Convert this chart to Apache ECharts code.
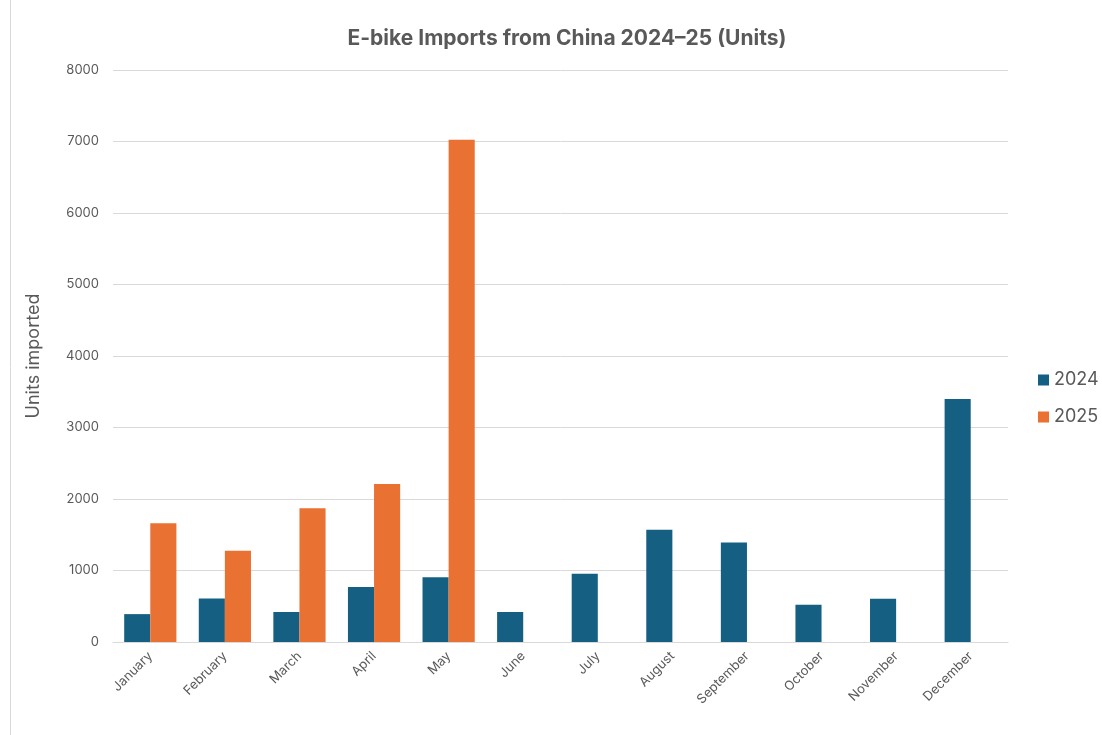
<!DOCTYPE html>
<html><head><meta charset="utf-8">
<script src="https://cdn.jsdelivr.net/npm/echarts@6/dist/echarts.min.js"></script>
<style>html,body{margin:0;padding:0;background:#fff}#c{width:1102px;height:735px}</style>
</head><body><div id="c"></div>
<script>
const months = ['January','February','March','April','May','June','July','August','September','October','November','December'];
const units2024 = [390, 610, 420, 770, 905, 420, 955, 1570, 1390, 520, 605, 3400];
const units2025 = [1660, 1275, 1870, 2210, 7025, '-', '-', '-', '-', '-', '-', '-'];
const seriesNames = ['2024', '2025'];
const yTicks = {min: 0, max: 8000, interval: 1000};

const chart = echarts.init(document.getElementById('c'));
const F = 'Inter, "Open Sans", sans-serif';
chart.setOption({
  animation: false,
  title: {text: 'E-bike Imports from China 2024\u201325 (Units)', left: 562, top: 23, textAlign: 'center',
    textStyle: {fontFamily: F, fontSize: 21, fontWeight: 'bold', color: '#595959'}},
  legend: {orient: 'vertical', left: 1033, top: 366, itemWidth: 11, itemHeight: 11, itemGap: 19, icon: 'rect',
    textStyle: {fontFamily: F, fontSize: 18, color: '#595959'}, data: seriesNames},
  grid: {left: 113, right: 94, top: 70, bottom: 93, containLabel: false},
  xAxis: {type: 'category', data: months,
    axisLine: {lineStyle: {color: '#d9d9d9'}}, axisTick: {show: false},
    axisLabel: {rotate: 45, fontFamily: F, fontSize: 13, color: '#595959', margin: 12, interval: 0}},
  yAxis: {type: 'value', min: yTicks.min, max: yTicks.max, interval: yTicks.interval,
    name: 'Units imported', nameLocation: 'middle', nameGap: 70, nameRotate: 90,
    nameTextStyle: {fontFamily: F, fontSize: 18, color: '#595959'},
    axisLine: {show: false}, axisTick: {show: false},
    axisLabel: {fontFamily: F, fontSize: 13, color: '#595959', margin: 14, formatter: v => String(v)},
    splitLine: {lineStyle: {color: '#d9d9d9', width: 1}}},
  graphic: [{type: 'line', shape: {x1: 10.5, y1: 0, x2: 10.5, y2: 735}, style: {stroke: '#d9d9d9', lineWidth: 1}}],
  series: [
    {name: seriesNames[0], type: 'bar', data: units2024, barWidth: '35%', barGap: '0%', itemStyle: {color: '#156082'}},
    {name: seriesNames[1], type: 'bar', data: units2025, barWidth: '35%', barGap: '0%', itemStyle: {color: '#E97132'}}
  ]
});
</script></body></html>
